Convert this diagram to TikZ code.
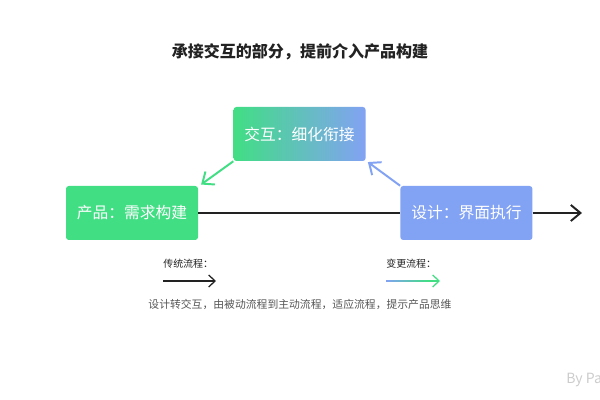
\documentclass[tikz,border=0pt]{standalone}
\usepackage{fontspec}
\setmainfont{Noto Sans CJK SC}
\usepackage{xcolor}
\usetikzlibrary{arrows.meta}
\definecolor{cpgreen}{HTML}{41DE84}
\definecolor{cpblue}{HTML}{82A2F3}
\definecolor{cpink}{HTML}{222222}
\definecolor{cpgray}{HTML}{555555}

\begin{document}
\begin{tikzpicture}
            \tikzset{box/.style={rounded corners=2pt, minimum width=3.3cm, minimum height=1.35cm, text=white, font=\fontsize{11.2}{13}\selectfont},
                     flow/.style={line width=1.4pt, -{Straight Barb[length=2.4mm, width=4mm]}},
                     legend/.style={font=\fontsize{7.1}{9}\selectfont, text=cpink, anchor=west, inner sep=0pt}}
            \useasboundingbox (0, 0) rectangle (15, -10);
            \node[font=\bfseries\fontsize{11.4}{14}\selectfont, text=cpink] (title) at (7.5, -1.3) {承接交互的部分，提前介入产品构建};
            \node[box, fill=cpgreen] (chanpin) at (3.3, -5.325) {产品：需求构建};
            \node[box, left color=cpgreen, right color=cpblue] (jiaohu) at (7.49, -3.35) {交互：细化衔接};
            \node[box, fill=cpblue] (sheji) at (11.66, -5.325) {设计：界面执行};
            \coordinate (end) at (14.55, -5.325);
            \draw[line width=1.3pt, cpink] (chanpin) -- (sheji);
            \draw[flow, cpink] (sheji) -- (end);
            \draw[flow, cpgreen] (jiaohu.south west) -- ([xshift=0.07cm, yshift=0.03cm]chanpin.north east);
            \draw[flow, cpblue] (sheji.north west) -- ([xshift=0.05cm, yshift=-0.02cm]jiaohu.south east);
            % legend
            \node[legend] (old) at (4.075, -6.6) {传统流程：};
            \coordinate (olda) at (4.075, -7.025);
            \coordinate (oldb) at (5.4, -7.025);
            \draw[cpink, line width=0.9pt, -{Straight Barb[length=1.6mm, width=3mm]}] (olda) -- (oldb);
            \node[legend] (new) at (9.65, -6.6) {变更流程：};
            \coordinate (newa) at (9.65, -7.025);
            \coordinate (newb) at (11.0, -7.025);
            \draw[cpgreen, line width=0.9pt, -{Straight Barb[length=1.6mm, width=3mm]}] (newa) -- (newb);
            \shade[left color=cpblue, right color=cpgreen] ([yshift=-0.016cm]newa) rectangle ([xshift=-0.3cm, yshift=0.016cm]newb);
            \node[font=\fontsize{7.7}{9}\selectfont, text=cpgray] (note) at (7.5, -7.6) {设计转交互，由被动流程到主动流程，适应流程，提示产品思维};
            \node[anchor=west, inner sep=0pt, font=\fontsize{10}{12}\selectfont, text=black!20] (by) at (14.15, -9.5) {By Pa};
        \end{tikzpicture}
\end{document}
